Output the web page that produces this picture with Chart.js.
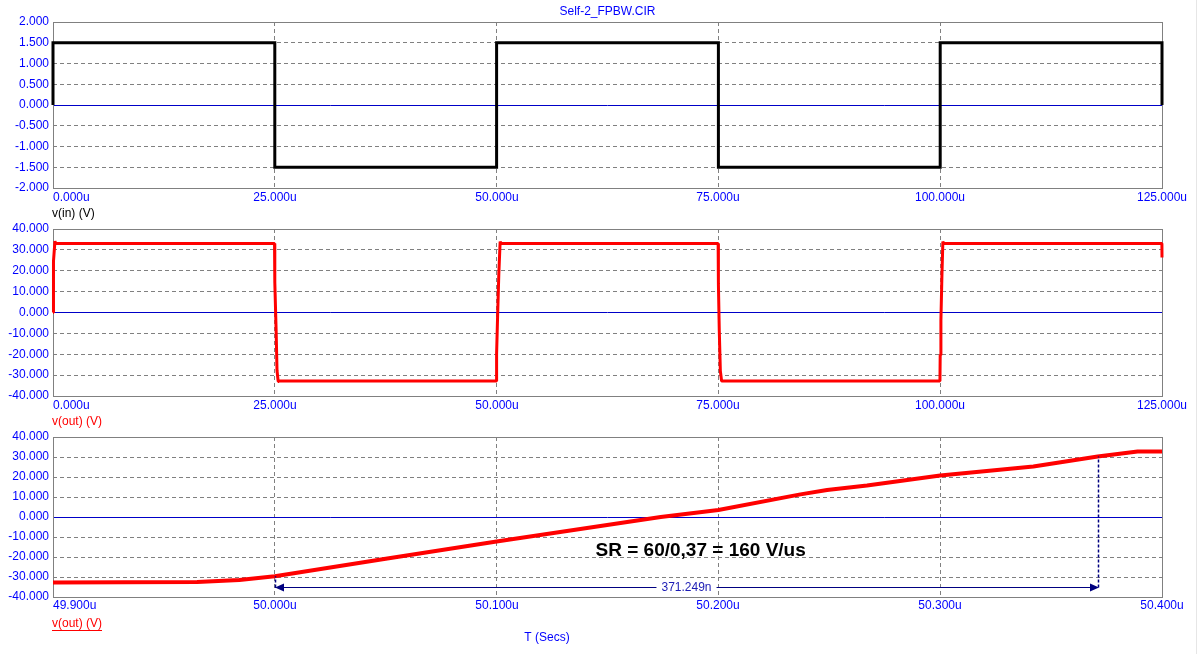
<!DOCTYPE html>
<html>
<head>
<meta charset="utf-8">
<title>Self-2_FPBW.CIR</title>
<script src="https://cdn.jsdelivr.net/npm/chart.js@4.4.1/dist/chart.umd.min.js"></script>
<style>
  html, body { margin: 0; padding: 0; background: #fff; }
  #wrap { position: relative; width: 1199px; height: 654px; overflow: hidden; }
  #wrap canvas { position: absolute; left: 0; top: 0; }
  #edge { position: absolute; left: 1196px; top: 0; width: 1px; height: 654px; background: #e6e6e6; }
</style>
</head>
<body>
<div id="wrap">
  <canvas id="vin_canvas" width="1199" height="654"></canvas>
  <canvas id="vout_canvas" width="1199" height="654"></canvas>
  <canvas id="slew_canvas" width="1199" height="654"></canvas>
  <div id="edge"></div>
</div>
<script>
const FONT = 'Arial, "Liberation Sans", sans-serif';
const fileTitle = 'Self-2_FPBW.CIR';
const timeTitle = 'T (Secs)';
const slewNote = 'SR = 60/0,37 = 160 V/us';

// time in microseconds
const xTicksLong = [0, 25, 50, 75, 100, 125];
const xTicksSlew = [49.9, 50.0, 50.1, 50.2, 50.3, 50.4];
const yTicksIn = [-2, -1.5, -1, -0.5, 0, 0.5, 1, 1.5, 2];
const yTicksOut = [-40, -30, -20, -10, 0, 10, 20, 30, 40];

// v(in)
const tIn = [0, 0, 25, 25, 50, 50, 75, 75, 100, 100, 125, 125];
const vIn = [0, 1.5, 1.5, -1.5, -1.5, 1.5, 1.5, -1.5, -1.5, 1.5, 1.5, 0];

// v(out), full run
const tOut = [0, 0, 0.11, 0.22, 0.3,
  24.97, 25.0, 25.15, 25.25, 25.38, 25.45,
  49.97, 50.0, 50.1, 50.25, 50.4, 50.5,
  74.97, 75.0, 75.1, 75.22, 75.36, 75.45,
  99.97, 100.0, 100.08, 100.19, 100.3, 100.4,
  124.99, 125];
const vOut = [0, 4, 24.6, 34.2, 33,
  33, 14.6, -8.8, -27.8, -33, -32.8,
  -32.8, -19.7, -3.8, 18.5, 34, 33,
  33, 13.7, -8.8, -28, -32.8, -32.8,
  -32.8, -20.3, -3.9, 16.9, 34, 33,
  33, 26.3];

// v(out), zoom on the 50u rising edge
const tSlew = [49.9, 49.965, 49.984, 50.0, 50.05, 50.1, 50.174, 50.2, 50.237, 50.249, 50.267, 50.3, 50.342, 50.371, 50.389, 50.4];
const vSlew = [-32.8, -32.5, -31.5, -29.6, -20.9, -12.3, 0, 3.5, 11.3, 13.5, 15.7, 20.7, 25.2, 30.2, 32.7, 32.8];

// cursor pair on the slew plot
const cursorStart = 50.0, cursorEnd = 50.371249;
const cursorStartV = -29.6, cursorEndV = 30.2;
const cursorLevel = -35;
const notePos = { x: 50.192, y: -17 };

const toPoints = (xs, ys) => xs.map((x, i) => ({ x: x, y: ys[i] }));

const scopePlugin = {
    id: 'scope',
    beforeDatasetsDraw(chart) {
        const { ctx, chartArea: a } = chart;
        ctx.save();
        ctx.strokeStyle = '#808080';
        ctx.lineWidth = 1;
        ctx.setLineDash([]);
        ctx.strokeRect(Math.round(a.left) + 0.5, Math.round(a.top) + 0.5,
            Math.round(a.right - a.left), Math.round(a.bottom - a.top));
        ctx.restore();
    },
    afterDraw(chart, args, opts) {
        const { ctx, chartArea: a } = chart;
        const xs = chart.scales.x;
        ctx.save();
        ctx.font = '12px ' + FONT;
        ctx.textBaseline = 'middle';
        ctx.fillStyle = '#0000ff';
        xs.ticks.forEach((t, i) => {
            const px = xs.getPixelForValue(t.value);
            ctx.textAlign = i === 0 ? 'left' : 'center';
            ctx.fillText(t.value.toFixed(3) + 'u', Math.round(px), a.bottom + opts.tickGap);
        });
        // trace name
        ctx.textAlign = 'left';
        ctx.fillStyle = opts.traceColor;
        const ty = a.bottom + opts.traceGap;
        ctx.fillText(opts.trace, 52, ty);
        if (opts.underline) {
            const w = ctx.measureText(opts.trace).width;
            ctx.fillRect(52, Math.round(ty + 6), w, 1);
        }
        if (opts.title) {
            ctx.fillStyle = '#0000ff';
            ctx.textAlign = 'center';
            ctx.fillText(opts.title, (a.left + a.right) / 2, 12);
        }
        if (opts.axisTitle) {
            ctx.fillStyle = '#0000ff';
            ctx.textAlign = 'center';
            ctx.fillText(opts.axisTitle, 547, 638);
        }
        ctx.restore();
    }
};

const cursorPlugin = {
    id: 'cursors',
    afterDatasetsDraw(chart) {
        const { ctx } = chart;
        const xs = chart.scales.x, ys = chart.scales.y;
        const x0 = Math.round(xs.getPixelForValue(cursorStart));
        const x1 = Math.round(xs.getPixelForValue(cursorEnd));
        const yb = Math.round(ys.getPixelForValue(cursorLevel)) + 0.5;
        ctx.save();
        ctx.strokeStyle = '#000080';
        ctx.fillStyle = '#000080';
        // dashed drop lines
        ctx.lineWidth = 1.5;
        ctx.setLineDash([3, 2]);
        ctx.beginPath();
        ctx.moveTo(x1 + 0.5, yb);
        ctx.lineTo(x1 + 0.5, ys.getPixelForValue(cursorEndV));
        ctx.moveTo(x0 + 0.5, yb);
        ctx.lineTo(x0 + 0.5, ys.getPixelForValue(cursorStartV));
        ctx.stroke();
        // span line
        ctx.setLineDash([]);
        ctx.lineWidth = 1;
        ctx.beginPath();
        ctx.moveTo(x0, yb);
        ctx.lineTo(x1, yb);
        ctx.stroke();
        // arrow heads
        ctx.beginPath();
        ctx.moveTo(x0, yb); ctx.lineTo(x0 + 9, yb - 4); ctx.lineTo(x0 + 9, yb + 4); ctx.closePath();
        ctx.moveTo(x1 + 1, yb); ctx.lineTo(x1 - 8, yb - 4); ctx.lineTo(x1 - 8, yb + 4); ctx.closePath();
        ctx.fill();
        // span label
        const label = ((cursorEnd - cursorStart) * 1000).toFixed(3) + 'n';
        ctx.font = '12px ' + FONT;
        const w = ctx.measureText(label).width;
        const cx = (x0 + x1) / 2;
        ctx.fillStyle = '#ffffff';
        ctx.fillRect(cx - w / 2 - 5, yb - 6, w + 10, 12);
        ctx.fillStyle = '#1c1cb4';
        ctx.textAlign = 'center';
        ctx.textBaseline = 'middle';
        ctx.fillText(label, cx, yb);
        // note
        ctx.font = 'bold 19px ' + FONT;
        ctx.fillStyle = '#000000';
        ctx.fillText(slewNote, xs.getPixelForValue(notePos.x), ys.getPixelForValue(notePos.y));
        ctx.restore();
    }
};

function scopeConfig(points, color, width, join, xMin, xMax, xTicks, yMin, yMax, yTicks, top, bottom, labels, extra) {
    return {
        type: 'line',
        data: {
            datasets: [{
                data: points, borderColor: color, borderWidth: width, pointRadius: 0,
                tension: 0, fill: false, clip: 4, borderJoinStyle: join, borderCapStyle: 'butt'
            }]
        },
        options: {
            responsive: false, animation: false, devicePixelRatio: 1,
            layout: { padding: { top: top, bottom: 654 - bottom, left: 0, right: 37 } },
            plugins: { legend: { display: false }, tooltip: { enabled: false }, scope: labels },
            scales: {
                x: {
                    type: 'linear', min: xMin, max: xMax,
                    afterBuildTicks: s => { s.ticks = xTicks.map(v => ({ value: v })) },
                    ticks: { display: false },
                    grid: { color: '#808080', lineWidth: 1, drawTicks: false },
                    border: { display: false, dash: [4, 3] }
                },
                y: {
                    type: 'linear', min: yMin, max: yMax,
                    afterBuildTicks: s => { s.ticks = yTicks.map(v => ({ value: v })) },
                    afterFit: s => { s.width = 53 },
                    ticks: {
                        color: '#0000ff', padding: 4, autoSkip: false,
                        font: { family: FONT, size: 12 },
                        callback: v => Number(v).toFixed(3)
                    },
                    grid: {
                        lineWidth: 1, drawTicks: false,
                        color: c => (c.tick && c.tick.value === 0) ? '#0000c8' : '#808080'
                    },
                    border: {
                        display: false,
                        dash: c => (c.tick && c.tick.value === 0) ? [] : [4, 3]
                    }
                }
            }
        },
        plugins: [scopePlugin].concat(extra || [])
    };
}

const chart_in = new Chart(document.getElementById('vin_canvas').getContext('2d'),
    scopeConfig(toPoints(tIn, vIn), '#000000', 3, 'miter', 0, 125, xTicksLong, -2, 2, yTicksIn, 22, 188,
        { trace: 'v(in) (V)', traceColor: '#000000', tickGap: 9.5, traceGap: 25.5, title: fileTitle }));

const chart_out = new Chart(document.getElementById('vout_canvas').getContext('2d'),
    scopeConfig(toPoints(tOut, vOut), '#ff0000', 3, 'bevel', 0, 125, xTicksLong, -40, 40, yTicksOut, 229, 396,
        { trace: 'v(out) (V)', traceColor: '#ff0000', tickGap: 9.5, traceGap: 25.5 }));

const chart_slew = new Chart(document.getElementById('slew_canvas').getContext('2d'),
    scopeConfig(toPoints(tSlew, vSlew), '#ff0000', 4, 'bevel', 49.9, 50.4, xTicksSlew, -40, 40, yTicksOut, 437, 597,
        { trace: 'v(out) (V)', traceColor: '#ff0000', tickGap: 9, traceGap: 26.5, underline: true, axisTitle: timeTitle },
        [cursorPlugin]));
</script>
</body>
</html>
